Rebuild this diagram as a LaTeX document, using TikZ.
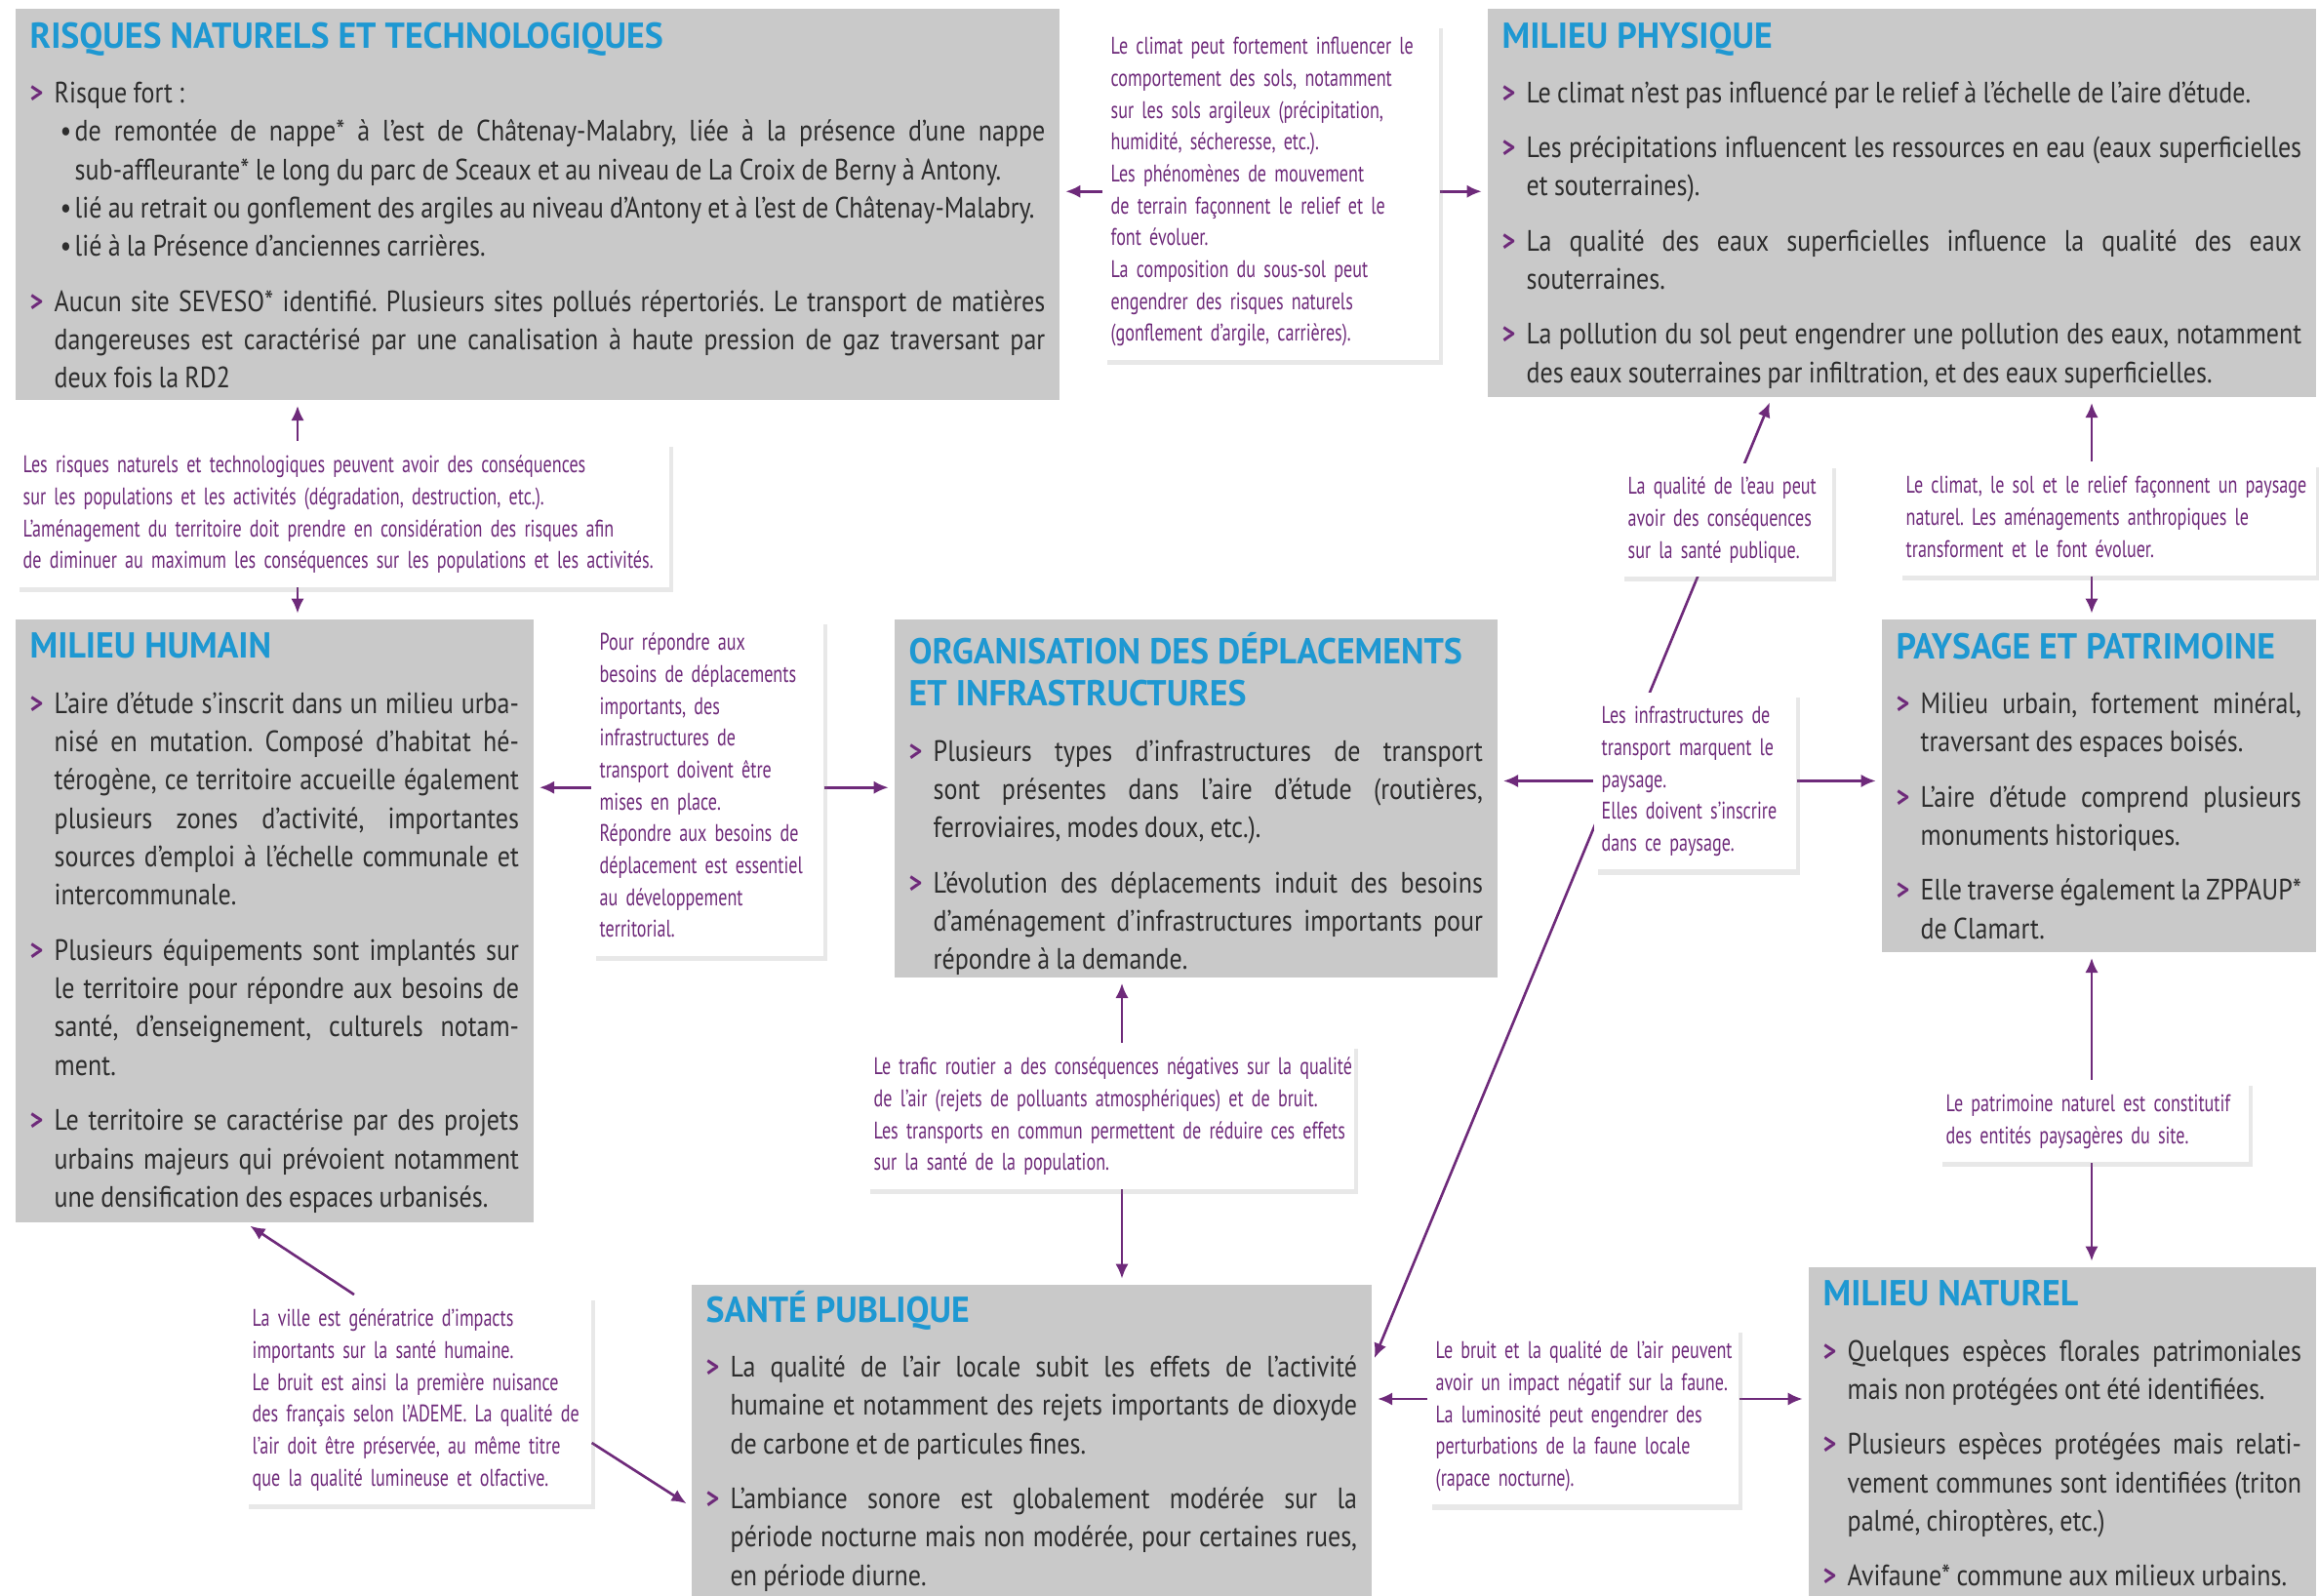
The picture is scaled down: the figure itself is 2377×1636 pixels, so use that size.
\documentclass[tikz,border=0pt]{standalone}
\usepackage{fontspec}
\setmainfont{PT Sans}
\newfontfamily\bodyfont[FakeStretch=0.86, WordSpace=0.9]{PT Sans}
\newfontfamily\notefont[FakeStretch=0.735, WordSpace=0.8]{PT Sans}
\newfontfamily\headfont[FakeStretch=0.97]{PT Sans}
\usetikzlibrary{arrows.meta,calc,shadows}
\pgfdeclarelayer{background}
\pgfsetlayers{background,main}
\definecolor{panelgray}{RGB}{201,201,201}
\definecolor{headblue}{RGB}{30,152,210}
\definecolor{linkpurple}{RGB}{110,42,122}
\definecolor{bodygray}{RGB}{45,45,45}
\frenchspacing
\def\paneltext#1#2#3{\parbox[c][#2][t]{#1}{\parindent=0pt\tolerance=10000\hyphenpenalty=10000\exhyphenpenalty=10000 #3}}
\def\notelines#1{\begin{tabular}{@{}l@{}}#1\end{tabular}}
\def\ttl#1{{\headfont\bfseries\fontsize{10.5}{12.2}\selectfont\noindent\textcolor{headblue}{#1}\par}}
\def\itm{\par\vspace{4.8pt}\hangindent=0.25cm\hangafter=0\noindent\llap{\makebox[0.25cm][l]{\textcolor{linkpurple}{\bfseries >}}}}
\def\bul{\par\hangindent=0.46cm\hangafter=0\noindent\llap{\makebox[0.15cm][l]{•}}}

\begin{document}
\begin{tikzpicture}[x=0.01cm, y=-0.01cm,
    panel/.style={fill=panelgray, anchor=north west, inner xsep=0.15cm, inner ysep=0.14cm,
      text=bodygray, font=\bodyfont\fontsize{8.6}{11.2}\selectfont},
    note/.style={fill=white, anchor=north west, inner xsep=0.08cm, inner ysep=0.09cm,
      text=linkpurple, font=\notefont\fontsize{7}{9.3}\selectfont,
      drop shadow={opacity=0.18, shadow xshift=1.2pt, shadow yshift=-1.5pt}},
    link/.style={draw=linkpurple, line width=0.75pt, -{Latex[length=4.3pt,width=3.8pt]}, shorten >=1.5pt}]
			%%%%% START %%%%%
			\useasboundingbox (0,0) rectangle (2377,1636);
			
			% gray panels
			\node[panel] (risk) at (15,8) {\paneltext{10.40cm}{3.73cm}{%
				\ttl{RISQUES NATURELS ET TECHNOLOGIQUES}
				\itm Risque fort :
				\bul de remontée de nappe* à l’est de Châtenay-Malabry, liée à la présence d’une nappe\linebreak sub-affleurante* le long du parc de Sceaux et au niveau de La Croix de Berny à Antony.
				\bul lié au retrait ou gonflement des argiles au niveau d’Antony et à l’est de Châtenay-Malabry.
				\bul lié à la Présence d’anciennes carrières.
				\itm Aucun site SEVESO* identifié. Plusieurs sites pollués répertoriés. Le transport de matières\linebreak dangereuses est caractérisé par une canalisation à haute pression de gaz traversant par\linebreak deux fois la RD2}};
			
			\node[panel] (phys) at (1524,8) {\paneltext{8.19cm}{3.70cm}{%
				\ttl{MILIEU PHYSIQUE}
				\itm Le climat n’est pas influencé par le relief à l’échelle de l’aire d’étude.
				\itm Les précipitations influencent les ressources en eau (eaux superficielles\linebreak et souterraines).
				\itm La qualité des eaux superficielles influence la qualité des eaux\linebreak souterraines.
				\itm La pollution du sol peut engendrer une pollution des eaux, notamment\linebreak des eaux souterraines par infiltration, et des eaux superficielles.}};
			
			\node[panel] (hum) at (15,634) {\paneltext{5.01cm}{5.90cm}{%
				\ttl{MILIEU HUMAIN}
				\itm L’aire d’étude s’inscrit dans un milieu urba-\linebreak nisé en mutation. Composé d’habitat hé-\linebreak térogène, ce territoire accueille également\linebreak plusieurs zones d’activité, importantes\linebreak sources d’emploi à l’échelle communale et\linebreak intercommunale.
				\itm Plusieurs équipements sont implantés sur\linebreak le territoire pour répondre aux besoins de\linebreak santé, d’enseignement, culturels notam-\linebreak ment.
				\itm Le territoire se caractérise par des projets\linebreak urbains majeurs qui prévoient notamment\linebreak une densification des espaces urbanisés.}};
			
			\node[panel] (org) at (916,634) {\paneltext{5.88cm}{3.39cm}{%
				\ttl{ORGANISATION DES DÉPLACEMENTS\\ET INFRASTRUCTURES}
				\itm Plusieurs types d’infrastructures de transport\linebreak sont présentes dans l’aire d’étude (routières,\linebreak ferroviaires, modes doux, etc.).
				\itm L’évolution des déplacements induit des besoins\linebreak d’aménagement d’infrastructures importants pour\linebreak répondre à la demande.}};
			
			\node[panel] (pays) at (1928,634) {\paneltext{4.15cm}{3.13cm}{%
				\ttl{PAYSAGE ET PATRIMOINE}
				\itm Milieu urbain, fortement minéral,\linebreak traversant des espaces boisés.
				\itm L’aire d’étude comprend plusieurs\linebreak monuments historiques.
				\itm Elle traverse également la ZPPAUP*\linebreak de Clamart.}};
			
			\node[panel] (sante) at (708,1316) {\paneltext{6.67cm}{2.92cm}{%
				\vspace*{-2.2pt}
				\ttl{SANTÉ PUBLIQUE}
				\itm La qualité de l’air locale subit les effets de l’activité\linebreak humaine et notamment des rejets importants de dioxyde\linebreak de carbone et de particules fines.
				\itm L’ambiance sonore est globalement modérée sur la\linebreak période nocturne mais non modérée, pour certaines rues,\linebreak en période diurne.}};
			
			\node[panel] (nat) at (1853,1298) {\paneltext{4.90cm}{3.10cm}{%
				\ttl{MILIEU NATUREL}
				\itm Quelques espèces florales patrimoniales\linebreak mais non protégées ont été identifiées.
				\itm Plusieurs espèces protégées mais relati-\linebreak vement communes sont identifiées (triton\linebreak palmé, chiroptères, etc.)
				\itm Avifaune* commune aux milieux urbains.}};
			
			% white notes
			\node[note, text width=3.28cm] (clim) at (1130,23) {\notelines{Le climat peut fortement influencer le\\comportement des sols, notamment\\sur les sols argileux (précipitation,\\humidité, sécheresse, etc.).\\Les phénomènes de mouvement\\de terrain façonnent le relief et le\\font évoluer.\\La composition du sous-sol peut\\engendrer des risques naturels\\(gonflement d’argile, carrières).}};
			\node[note, text width=6.54cm] (rh) at (15,452) {\notelines{Les risques naturels et technologiques peuvent avoir des conséquences\\sur les populations et les activités (dégradation, destruction, etc.).\\L’aménagement du territoire doit prendre en considération des risques afin\\de diminuer au maximum les conséquences sur les populations et les activités.}};
			\node[note, text width=2.21cm] (depl) at (606,634) {\notelines{Pour répondre aux\\besoins de déplacements\\importants, des\\infrastructures de\\transport doivent être\\mises en place.\\Répondre aux besoins de\\déplacement est essentiel\\au développement\\territorial.}};
			\node[note, text width=2.01cm] (eau) at (1660,474) {\notelines{La qualité de l’eau peut\\avoir des conséquences\\sur la santé publique.}};
			\node[note, text width=4.12cm] (clsol) at (1945,473) {\notelines{Le climat, le sol et le relief façonnent un paysage\\naturel. Les aménagements anthropiques le\\transforment et le font évoluer.}};
			\node[note, text width=1.91cm] (infra) at (1633,709) {\notelines{Les infrastructures de\\transport marquent le\\paysage.\\Elles doivent s’inscrire\\dans ce paysage.}};
			\node[note, text width=4.84cm] (traf) at (887,1069) {\notelines{Le trafic routier a des conséquences négatives sur la qualité\\de l’air (rejets de polluants atmosphériques) et de bruit.\\Les transports en commun permettent de réduire ces effets\\sur la santé de la population.}};
			\node[note, text width=3.02cm] (patr) at (1986,1107) {\notelines{Le patrimoine naturel est constitutif\\des entités paysagères du site.}};
			\node[note, text width=3.39cm] (ville) at (250,1327) {\notelines{La ville est génératrice d’impacts\\importants sur la santé humaine.\\Le bruit est ainsi la première nuisance\\des français selon l’ADEME. La qualité de\\l’air doit être préservée, au même titre\\que la qualité lumineuse et olfactive.}};
			\node[note, text width=3.02cm] (faune) at (1463,1360) {\notelines{Le bruit et la qualité de l’air peuvent\\avoir un impact négatif sur la faune.\\La luminosité peut engendrer des\\perturbations de la faune locale\\(rapace nocturne).}};
			
			% arrows
			\begin{pgfonlayer}{background}
			\draw[link] (clim.west) -- (clim.west -| risk.east);
			\draw[link] (clim.east) -- (clim.east -| phys.west);
			\draw[link] ($(rh.north west)+(290,0)$) coordinate (p1) -- (p1 |- risk.south);
			\draw[link] (p1 |- rh.south) -- (p1 |- hum.north);
			\draw[link] (depl.west) -- (depl.west -| hum.east);
			\draw[link] (depl.east) -- (depl.east -| org.west);
			\draw[link] (infra.west) -- (infra.west -| org.east);
			\draw[link] (infra.east) -- (infra.east -| pays.west);
			\draw[link] ($(clsol.north west)+(199,0)$) coordinate (p2) -- (p2 |- phys.south);
			\draw[link] (p2 |- clsol.south) -- (p2 |- pays.north);
			\draw[link] ($(patr.north west)+(158,0)$) coordinate (p6) -- (p6 |- pays.south);
			\draw[link] (p6 |- patr.south) -- (p6 |- nat.north);
			\draw[link] ($(traf.north west)+(263,0)$) coordinate (p3) -- (p3 |- org.south);
			\draw[link] (p3 |- traf.south) -- (p3 |- sante.north);
			\draw[link] ($(ville.north west)+(113,0)$) -- ($(hum.south west)+(237,0)$);
			\draw[link] ($(ville.north east)+(0,152)$) -- ($(sante.north west)+(0,228)$);
			\draw[link] ($(faune.north west)+(0,74)$) coordinate (p4) -- (p4 -| sante.east);
			\draw[link] ($(faune.north east)+(0,74)$) coordinate (p5) -- (p5 -| nat.west);
			\draw[link, {Latex[length=4.3pt,width=3.8pt]}-{Latex[length=4.3pt,width=3.8pt]}, shorten <=1.5pt] ($(sante.north east)+(0,81)$) -- ($(phys.south west)+(292,0)$);
			\end{pgfonlayer}
			
			%%%%% END %%%%%
\end{tikzpicture}
\end{document}
